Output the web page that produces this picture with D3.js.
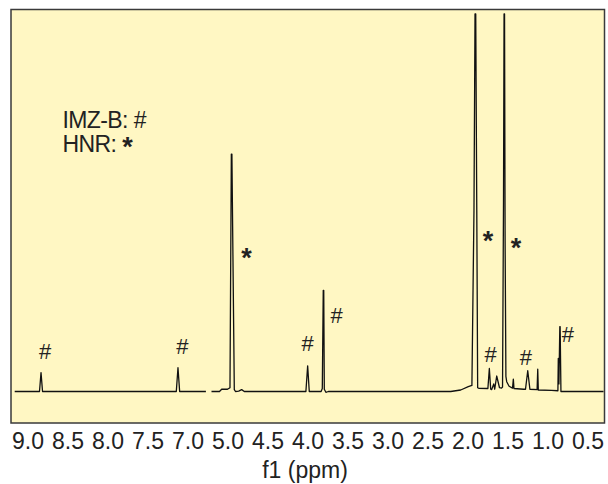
<!DOCTYPE html>
<html>
<head>
<meta charset="utf-8">
<script src="https://cdn.jsdelivr.net/npm/d3@7"></script>
<style>
  body { margin: 0; background: #fff; }
  text { font-family: "Liberation Sans", Arial, Helvetica, sans-serif; fill: #222; }
</style>
</head>
<body>
<div id="chart"></div>
<script>
// tick labels on the broken ppm axis
const leftTicks = [9.0, 8.5, 8.0, 7.5, 7.0];
const rightTicks = [5.0, 4.5, 4.0, 3.5, 3.0, 2.5, 2.0, 1.5, 1.0, 0.5];

// spectrum vertices: [ppm, relative intensity]
const spectrumLeft = [
  [9.16, 0], [8.85, 0], [8.831, 0.050], [8.812, 0],
  [7.14, 0], [7.119, 0.063], [7.098, 0], [6.77, 0]
];
const spectrumRight = [
  [5.20, 0], [5.10, 0], [5.073, 0.006], [5.00, 0.006], [4.969, 0.01],
  [4.952, 0.629], [4.945, 0.629], [4.915, 0.005], [4.90, 0], [4.86, 0.001],
  [4.823, 0.005], [4.79, 0],
  [4.02, 0], [3.998, 0.068], [3.978, 0], [3.83, 0], [3.815, 0.008],
  [3.803, 0.268], [3.797, 0.268], [3.79, 0.006], [3.77, -0.002], [3.74, 0],
  [2.21, 0], [2.085, 0.004], [1.99, 0.0127], [1.945, 0.016],
  [1.919, 0.48], [1.906, 1.0], [1.897, 1.0], [1.884, 0.48], [1.873, 0.01],
  [1.86, 0.0085], [1.745, 0.008], [1.727, 0.061], [1.71, 0.006], [1.698, 0.005],
  [1.672, 0.02], [1.66, 0.006], [1.635, 0.041], [1.60, 0.01], [1.575, 0.009],
  [1.562, 0.012], [1.55, 0.5], [1.543, 1.0], [1.537, 1.0], [1.53, 0.4],
  [1.52, 0.04], [1.51, 0.026], [1.48, 0.014], [1.437, 0.009], [1.427, 0.033],
  [1.419, 0.008], [1.30, 0.006], [1.275, 0.006], [1.247, 0.055], [1.22, 0.006],
  [1.13, 0.005], [1.122, 0.059], [1.115, 0.004], [0.95, 0.003], [0.87, 0.002],
  [0.865, 0.088], [0.857, 0.02], [0.846, 0.172], [0.842, 0.172], [0.832, 0],
  [0.30, 0]
];

// peak markers: which compound a peak belongs to
const markers = [
  { ppm: 8.781, level: 0.086, mark: "#" },
  { ppm: 7.063, level: 0.099, mark: "#" },
  { ppm: 4.763, level: 0.330, mark: "*" },
  { ppm: 4.0, level: 0.107, mark: "#" },
  { ppm: 3.6375, level: 0.181, mark: "#" },
  { ppm: 1.744, level: 0.374, mark: "*" },
  { ppm: 1.394, level: 0.357, mark: "*" },
  { ppm: 1.7125, level: 0.078, mark: "#" },
  { ppm: 1.269, level: 0.070, mark: "#" },
  { ppm: 0.744, level: 0.131, mark: "#" }
];
const legendLines = [["IMZ-B: ", "#"], ["HNR: ", "*"]];

const width = 608, height = 484;
const box = { left: 11, top: 9.5, right: 604.5, bottom: 423 };

const svg = d3.select("#chart")
  .append("svg")
  .attr("width", width)
  .attr("height", height);

// plot background
svg.append("rect")
  .attr("x", box.left)
  .attr("y", box.top)
  .attr("width", box.right - box.left)
  .attr("height", box.bottom - box.top)
  .attr("fill", "#fff7c3")
  .attr("stroke", "#3a3a3a")
  .attr("stroke-width", 1.5);

// two x scales, axis broken between 7.0 and 5.0
const xLeft = d3.scaleLinear()
  .domain([9.0, 7.0])
  .range([27.5, 187.5]);
const xRight = d3.scaleLinear()
  .domain([5.0, 0.5])
  .range([227.5, 587.5]);

const y = d3.scaleLinear()
  .domain([0, 1])
  .range([391.5, 14]);

const lineLeft = d3.line().x(d => xLeft(d[0])).y(d => y(d[1]));
const lineRight = d3.line().x(d => xRight(d[0])).y(d => y(d[1]));

svg.append("path")
  .datum(spectrumLeft)
  .attr("fill", "none")
  .attr("stroke", "#111")
  .attr("stroke-width", 1.3)
  .attr("stroke-linejoin", "round")
  .attr("d", lineLeft);

svg.append("path")
  .datum(spectrumRight)
  .attr("fill", "none")
  .attr("stroke", "#111")
  .attr("stroke-width", 1.3)
  .attr("stroke-linejoin", "round")
  .attr("d", lineRight);

// axes (labels only)
function styleAxis(g) {
  g.select(".domain").remove();
  g.selectAll("text")
    .attr("font-size", 23)
    .attr("fill", "#222")
    .style("font-family", "'Liberation Sans', Arial, sans-serif");
}

svg.append("g")
  .attr("transform", `translate(0,${box.bottom})`)
  .call(d3.axisBottom(xLeft).tickValues(leftTicks).tickSize(0).tickPadding(10).tickFormat(d3.format(".1f")))
  .call(styleAxis);

svg.append("g")
  .attr("transform", `translate(0,${box.bottom})`)
  .call(d3.axisBottom(xRight).tickValues(rightTicks).tickSize(0).tickPadding(10).tickFormat(d3.format(".1f")))
  .call(styleAxis);

svg.append("text")
  .attr("x", 305)
  .attr("y", 478)
  .attr("text-anchor", "middle")
  .attr("font-size", 23)
  .text("f1 (ppm)");

// peak markers
svg.selectAll(".marker")
  .data(markers)
  .enter()
  .append("text")
  .attr("class", "marker")
  .attr("x", d => d.ppm > 6 ? xLeft(d.ppm) : xRight(d.ppm))
  .attr("y", d => y(d.level))
  .attr("text-anchor", "middle")
  .attr("font-size", d => d.mark === "*" ? 27 : 22)
  .attr("font-weight", d => d.mark === "*" ? "bold" : "normal")
  .text(d => d.mark);

// legend
const legend = svg.selectAll(".legend")
  .data(legendLines)
  .enter()
  .append("text")
  .attr("class", "legend")
  .attr("x", 62.5)
  .attr("y", (d, i) => 127.5 + i * 24)
  .attr("font-size", 23)
  .attr("letter-spacing", -0.6);

legend.append("tspan").text(d => d[0]);
legend.append("tspan")
  .attr("font-size", d => d[1] === "*" ? 27 : 23)
  .attr("font-weight", d => d[1] === "*" ? "bold" : "normal")
  .attr("dy", d => d[1] === "*" ? 4 : 0)
  .text(d => d[1]);
</script>
</body>
</html>
